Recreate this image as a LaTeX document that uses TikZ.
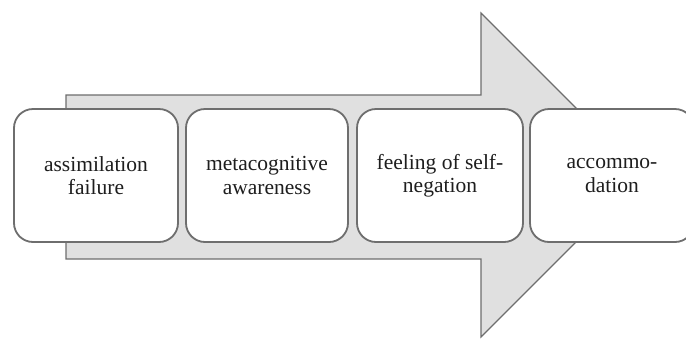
\documentclass[tikz,border=0pt]{standalone}
\usepackage{fontspec}
\setmainfont{Liberation Serif}
\definecolor{arrowfill}{HTML}{E0E0E0}
\definecolor{edgegray}{HTML}{6E6E6E}
\definecolor{txt}{HTML}{1E1E1E}
\begin{document}
\begin{tikzpicture}[x=1pt,y=-1pt,
  stagebox/.style={draw=edgegray, line width=1.8pt, fill=white, rounded corners=19pt,
    minimum height=133pt, align=center, inner sep=2pt, text=txt,
    font=\fontsize{21.5}{23.5}\selectfont},
  bigarrow/.style={draw=edgegray, line width=1.2pt, fill=arrowfill, line join=miter}]
\useasboundingbox (0,0) rectangle (686,338);
\fill[white] (0,0) rectangle (686,338);
\begin{scope}
\clip (0,0) rectangle (686,338);
\draw[bigarrow] (66,95) -- (481,95) -- (481,13) -- (643,175) -- (481,337) -- (481,259) -- (66,259) -- cycle;
\node[stagebox, minimum width=164pt] (b1) at (96,175.5) {assimilation\\failure};
\node[stagebox, minimum width=162pt] (b2) at (267,175.5) {metacognitive\\awareness};
\node[stagebox, minimum width=166pt] (b3) at (440,175.5) {feeling of self-\\negation};
\node[stagebox, minimum width=164pt] (b4) at (612,175.5) {accommo-\\dation};
\end{scope}
\end{tikzpicture}
\end{document}
